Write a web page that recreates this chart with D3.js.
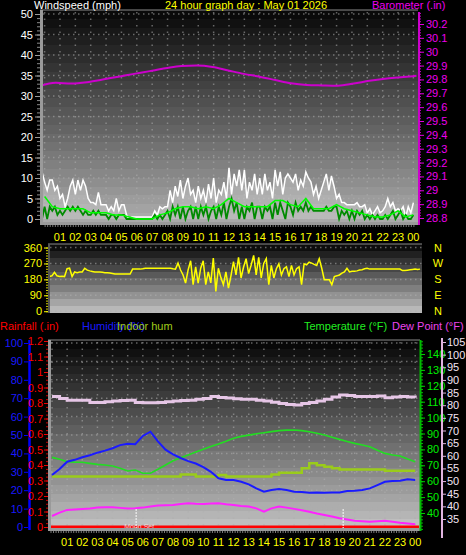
<!DOCTYPE html>
<html><head><meta charset="utf-8">
<script src="https://cdn.jsdelivr.net/npm/d3@7"></script>
<style>
html,body{margin:0;padding:0;background:#000;overflow:hidden}
svg{display:block}
text{font-family:"Liberation Sans",Arial,sans-serif;font-size:11px}
</style>
</head><body>
<svg id="c" width="466" height="555"></svg>
<script>
// ---------------- DATA ----------------
const chartTitle = "24 hour graph day : May 01 2026";
const hourTicks = [1,2,3,4,5,6,7,8,9,10,11,12,13,14,15,16,17,18,19,20,21,22,23,24];
const hourLabels = ["01","02","03","04","05","06","07","08","09","10","11","12","13","14","15","16","17","18","19","20","21","22","23","00"];
const windTicks = [0,5,10,15,20,25,30,35,40,45,50];
const baroTicks = [28.8,28.9,29,29.1,29.2,29.3,29.4,29.5,29.6,29.7,29.8,29.9,30,30.1,30.2];
const dirTicks = [0,90,180,270,360];
const dirLabels = ["N","E","S","W","N"];
const humTicks = [0,10,20,30,40,50,60,70,80,90,100];
const rainTicks = [0,0.1,0.2,0.3,0.4,0.5,0.6,0.7,0.8,0.9,1,1.1,1.2];
const tempTicks = [40,50,60,70,80,90,100,110,120,130,140];
const dewTicks = [35,40,45,50,55,60,65,70,75,80,85,90,95,100,105];

// 10-minute samples, first at -1/6 h
const windGust = [11.5,
 9,7,9.5,9.5,7,8,
 5,6,3,5,8,9.5,
 6,9.5,7,9.5,8,5,
 4,4,3.5,6.5,3.5,3.5,
 3.5,2,3,2,5,2,
 3.5,3.5,1,0,0.5,0.5,
 0.5,0.5,0.5,0.5,0.5,0.5,
 0.5,2,1,3,2.5,3,
 3,7,4,8,5.5,9.5,
 5,8,10,6,7,4,
 8,5,7,4,8.5,5,
 10,4,7,6,9,5,
 12.5,6,11,8,12,7,
 12,5,9,7,11,6,
 10,6,11,7,9,5,
 12,8,11.5,6,10,11,
 10,9,11,7,9.5,8,
 11.5,10,9,6,8,5,
 7,9,11,7,10.5,8,
 5,6,4,4,3.5,3.5,
 3.5,3.5,4,3,3,3.5,
 1.5,2.5,1,2,3,1.5,
 2,3,5,3,4,2,
 2.5,2,3,0.5,3,1.5,
 4];
const windSpeed = [0,
 3,0,3,2,3,1,
 2,1,2,3,2,3,
 2,3,2,1,2,1,
 1,2,1,2,1,1,
 1,0,1,1,0,1,
 1,1,0,0,0,0,
 0,0,0,0,0,0,
 0,1,0,1,0,1,
 2,0,3,1,3,0,
 3,0,2,3,0,3,
 0,3,1,3,0,2,
 3,0,3,1,4,0,
 3,5,2,4,0,3,
 0,3,2,4,0,3,
 3,0,3,2,3,0,
 4,1,4,2,0,4,
 3,1,4,2,3,2,
 4,2,3,2,2,2,
 2,2,3,2,2,3,
 3,0,2,1,2,0,
 2,0,2,1,2,0,
 1,0,1,0,1,0,
 0,1,0,1,2,0,
 1,2,0,1,0,0,
 1];
// half-hourly from 0 h
const windAvg = [5.5,3,2.5,2.5,2.5,2.5,1.5,1.5,1.5,1,1,0.5,0,0,0,1,1.5,2.5,3,3,2.5,3,2.5,3.5,5,4,3,3,3,3,4.5,4.5,3.5,3,5,2.5,2.5,2.5,3.5,2.5,2,1.5,1,0.5,0.5,1,2,0.5,1];
// hourly-ish, from -0.3 h to 24.2 h
const barometer = [29.752,29.776,29.77,29.78,29.80,29.82,29.84,29.86,29.88,29.897,29.90,29.89,29.865,29.84,29.82,29.796,29.772,29.76,29.757,29.755,29.77,29.79,29.805,29.815,29.826];
// 10-minute samples, first at -1/6 h
const windDir = [196,
 200,220,200,196,198,196,
 240,243,196,222,218,222,
 222,243,232,228,225,222,
 222,222,220,218,218,216,
 213,210,210,210,210,210,
 210,210,238,238,238,238,
 240,243,243,243,243,243,
 243,243,243,243,243,243,
 240,238,272,233,205,159,
 233,285,150,251,159,243,
 285,150,222,160,300,112,
 243,190,150,222,131,200,
 280,205,304,188,250,297,
 213,260,316,205,304,188,
 270,297,150,259,188,240,
 268,205,240,251,196,259,
 205,240,251,150,268,262,
 277,272,265,259,297,243,
 178,178,178,150,196,200,
 205,215,222,243,222,226,
 226,228,233,235,240,243,
 238,238,238,238,238,238,
 238,238,238,238,238,238,
 238,230,230,232,234,236,
 238,236,238];
// half-hourly from 0 h
const humidity = [28.3,31.5,35.5,36.5,37.9,39,40.4,41.5,42.8,44.5,45.3,45,49.5,51.8,46.5,42,39.5,37.5,35.8,34.5,32.5,30,26.5,25.5,25.5,24.6,23.2,21,19.2,20.1,20.6,20.1,19.2,19,18.6,18.8,18.6,18.8,18.8,19.6,19.7,20.1,21,22.8,24.6,25,25.2,25.9,25.5];
const indoorHum = [27.4,27.4,27.4,27.4,27.4,27.4,27.4,27.4,27.4,27.4,27.4,27.4,27.4,27.4,27.4,27.4,27.4,28.6,28.6,27.4,27.4,27.4,28.2,27.4,27.4,27.4,27.4,27.4,27.4,28.6,29.5,29.5,29.5,31.9,34.6,33.5,32.8,31.9,31.3,31.3,31.3,31.3,31.3,31.3,30.6,30.6,30.6,30.6,30.6];
const temperature = [75,73.8,72.3,72,71.9,71.2,70.6,70.2,69.6,68.2,66.4,67,65,65,67.5,70.2,72.9,74.7,76.5,78.3,80.1,81.8,83.4,85.2,87,88.2,89,89.8,90.5,91.2,91.8,92.1,92.2,91.8,91.1,90.1,89,87.7,86.3,85,83.8,82.8,81.7,79.5,77.5,76.5,75.8,74,72.2];
const dewPoint = [36.2,37.5,38.6,38.8,39,39.2,39.5,39.6,39.6,39.4,39.2,39.3,39.5,39.9,40.3,40.4,40.5,40.9,41.2,41,40.9,41.1,41.2,40.8,40.5,40.1,39.9,39.2,37.9,39.2,39.9,39.5,39,38.5,37.9,37.2,36.6,36,35.3,34.8,34.3,34.1,33.9,34.1,34.3,33.9,33.5,33.2,32.9];
const indoorTemp = [83.4,82.7,82,82,82,81.1,81.1,81.4,81.7,81.9,82,81.1,81,81,81.1,81.4,81.7,81.9,82,82.4,82.7,83.4,83.1,82.9,82.6,82.4,82.4,82,81.7,81.2,80.7,80.3,80.1,80.7,81.1,81.7,82.4,83.2,84,83.8,83.4,83.4,83.4,83.6,83,83.2,83.4,83.2,83];
const rainfall = [0,0,0,0,0,0,0,0,0,0,0,0,0,0,0,0,0,0,0,0,0,0,0,0,0];
const moonEvents = [{t:5.56,label:"Moon Set"},{t:19.24,label:""}];

// ---------------- HELPERS ----------------
const svg = d3.select('#c');
const defs = svg.append('defs');
function series(vals, start, step){ return vals.map((v,i)=>({t:start+i*step, v:v})); }
function bandGrad(id, top, bot, n){
  const g = defs.append('linearGradient').attr('id',id).attr('x1',0).attr('y1',0).attr('x2',0).attr('y2',1);
  const ip = d3.interpolateRgb(top, bot);
  for(let k=0;k<n;k++){
    const c = ip(k/(n-1));
    g.append('stop').attr('offset',k/n).attr('stop-color',c);
    g.append('stop').attr('offset',(k+1)/n).attr('stop-color',c);
  }
}
function clip(id,P){ defs.append('clipPath').attr('id',id).append('rect').attr('x',P.l).attr('y',P.t).attr('width',P.r-P.l).attr('height',P.b-P.t); }
function dotted(g, x1,y1,x2,y2,dash){
  g.append('line').attr('x1',x1).attr('y1',y1).attr('x2',x2).attr('y2',y2)
   .attr('stroke','rgba(175,175,175,0.55)').attr('stroke-width',1.5).attr('stroke-dasharray',dash);
}
function styleAxis(g, color, textColor){
  g.select('.domain').remove();
  g.selectAll('line').attr('stroke',color);
  g.selectAll('text').attr('fill',textColor||color).style('font-size','11px').style('font-family','"Liberation Sans",Arial,sans-serif');
}
const hourFmt = h => hourLabels[hourTicks.indexOf(h)];

// ---------------- PANEL 1: WIND + BAROMETER ----------------
const P1 = {l:40, r:418, t:10, b:222};
const x1 = d3.scaleLinear().domain([-0.3,24.3]).range([P1.l,P1.r]);
const yWind = d3.scaleLinear().domain([0,50]).range([219,14]);
const yBaro = d3.scaleLinear().domain([28.8,30.2]).range([218,24]);
bandGrad('g1','#0a0a0a','#aaaaaa',24);
clip('c1',P1);
svg.append('rect').attr('x',P1.l).attr('y',P1.t).attr('width',P1.r-P1.l).attr('height',P1.b-P1.t).attr('fill','url(#g1)');
const grid1 = svg.append('g');
windTicks.forEach(v=>dotted(grid1,P1.l+3,yWind(v),P1.r,yWind(v),'1.5 3.5'));
d3.range(0,25).forEach(h=>dotted(grid1,x1(h),P1.t+2,x1(h),P1.b,'1.5 5'));
const p1 = svg.append('g').attr('clip-path','url(#c1)');
const gustS = series(windGust,-1/6,1/6);
p1.append('path').datum(gustS).attr('fill','rgba(215,215,215,0.35)')
  .attr('d',d3.area().x(d=>x1(d.t)).y0(yWind(0)).y1(d=>yWind(d.v)));
p1.append('path').datum(gustS).attr('fill','none').attr('stroke','#ffffff').attr('stroke-width',1.5)
  .attr('d',d3.line().x(d=>x1(d.t)).y(d=>yWind(d.v)));
p1.append('path').datum(series(windSpeed,-1/6,1/6)).attr('fill','none').attr('stroke','#008a00').attr('stroke-width',1.8)
  .attr('d',d3.line().x(d=>x1(d.t)).y(d=>yWind(d.v)));
p1.append('path').datum(series(windAvg,0,0.5)).attr('fill','none').attr('stroke','#00ff00').attr('stroke-width',1.5)
  .attr('d',d3.line().x(d=>x1(d.t)).y(d=>yWind(d.v)));
p1.append('path').datum(series(barometer,-0.3,(24.2+0.3)/24)).attr('fill','none').attr('stroke','#cc00cc').attr('stroke-width',2)
  .attr('d',d3.line().curve(d3.curveMonotoneX).x(d=>x1(d.t)).y(d=>yBaro(d.v)));
// frame
svg.append('line').attr('x1',P1.l).attr('x2',P1.r).attr('y1',P1.t).attr('y2',P1.t).attr('stroke','#8a8a8a');
svg.append('rect').attr('x',P1.l).attr('y',P1.t).attr('width',3).attr('height',P1.b-P1.t+3).attr('fill','#9a9a9a');
svg.append('rect').attr('x',P1.l).attr('y',P1.b).attr('width',P1.r-P1.l).attr('height',3).attr('fill','#9a9a9a');
// left wind axis
const aw = svg.append('g').attr('transform',`translate(${P1.l},0)`).call(d3.axisLeft(yWind).tickValues(d3.range(0,51,1)).tickSize(3).tickFormat(''));
styleAxis(aw,'#8a8a8a');
const aw2 = svg.append('g').attr('transform',`translate(${P1.l},0)`).call(d3.axisLeft(yWind).tickValues(windTicks).tickSize(5).tickPadding(2));
styleAxis(aw2,'#9a9a9a','#ffffff');
// right barometer axis
svg.append('line').attr('x1',P1.r+1).attr('x2',P1.r+1).attr('y1',P1.t+2).attr('y2',P1.b+3).attr('stroke','#cc00cc').attr('stroke-width',2);
const ab = svg.append('g').attr('transform',`translate(${P1.r+1},0)`).call(d3.axisRight(yBaro).tickValues(d3.range(28.8,30.3,0.02)).tickSize(2).tickFormat(''));
styleAxis(ab,'#cc00cc');
const ab2 = svg.append('g').attr('transform',`translate(${P1.r+1},0)`).call(d3.axisRight(yBaro).tickValues(baroTicks).tickSize(5).tickPadding(2).tickFormat(d=>d3.format('')(+d.toFixed(1))));
styleAxis(ab2,'#dd00dd','#ee00ee');
// bottom hour axis
const ah = svg.append('g').attr('transform',`translate(0,${P1.b+3})`).call(d3.axisBottom(x1).tickValues(d3.range(0,145).map(i=>i/6)).tickSize(2).tickFormat(''));
styleAxis(ah,'#7a7a7a');
svg.append('g').selectAll('text').data(hourTicks).join('text')
  .attr('x',d=>x1(d)).attr('y',241).attr('text-anchor','middle').attr('fill','#ffff00').text(hourFmt);
// titles
svg.append('text').attr('x',34).attr('y',9).attr('fill','#ffffff').text('Windspeed (mph)');
svg.append('text').attr('x',246).attr('y',9).attr('text-anchor','middle').attr('fill','#ffff00').text(chartTitle);
svg.append('text').attr('x',372).attr('y',9).attr('fill','#ee00ee').text('Barometer (.in)');

// ---------------- PANEL 2: WIND DIRECTION ----------------
const P2 = {l:48, r:422, t:244, b:313};
const x2 = d3.scaleLinear().domain([-0.26,24.46]).range([P2.l,P2.r]);
const yDir = d3.scaleLinear().domain([-10,380]).range([P2.b,P2.t]);
bandGrad('g2','#0e0e0e','#b8b8b8',10);
clip('c2',P2);
svg.append('rect').attr('x',P2.l).attr('y',P2.t).attr('width',P2.r-P2.l).attr('height',P2.b-P2.t).attr('fill','url(#g2)');
const grid2 = svg.append('g');
dirTicks.forEach(v=>dotted(grid2,P2.l+2,yDir(v),P2.r,yDir(v),'1.5 3.5'));
svg.append('g').attr('clip-path','url(#c2)').append('path').datum(series(windDir,-1/6,1/6))
  .attr('fill','none').attr('stroke','#ffff00').attr('stroke-width',1.5)
  .attr('d',d3.line().x(d=>x2(d.t)).y(d=>yDir(d.v)));
svg.append('line').attr('x1',P2.l).attr('x2',P2.r).attr('y1',P2.t).attr('y2',P2.t).attr('stroke','#8a8a8a');
svg.append('rect').attr('x',P2.l).attr('y',P2.t).attr('width',2).attr('height',P2.b-P2.t).attr('fill','#555');
const ad = svg.append('g').attr('transform',`translate(${P2.l},0)`).call(d3.axisLeft(yDir).tickValues(d3.range(0,361,15)).tickSize(2).tickFormat(''));
styleAxis(ad,'#cccc00');
const ad2 = svg.append('g').attr('transform',`translate(${P2.l},0)`).call(d3.axisLeft(yDir).tickValues(dirTicks).tickSize(4).tickPadding(2));
styleAxis(ad2,'#ffff00');
svg.append('g').selectAll('text').data(dirTicks).join('text')
  .attr('x',438).attr('y',d=>yDir(d)+4).attr('text-anchor','middle').attr('fill','#ffff00')
  .text((d,i)=>dirLabels[i]);

// ---------------- PANEL 3: TEMP / HUM / RAIN ----------------
const P3 = {l:48, r:420, t:340, b:528};
const x3 = d3.scaleLinear().domain([-0.2,24.25]).range([49,419]);
const yHum = d3.scaleLinear().domain([0,100]).range([527,343]);
const yRain = d3.scaleLinear().domain([0,1.2]).range([527,341]);
const yTemp = d3.scaleLinear().domain([40,140]).range([513,354]);
const yDew = d3.scaleLinear().domain([35,105]).range([519,342]);
bandGrad('g3','#080808','#bebebe',22);
clip('c3',P3);
svg.append('rect').attr('x',P3.l).attr('y',P3.t).attr('width',P3.r-P3.l).attr('height',P3.b-P3.t).attr('fill','url(#g3)');
const grid3 = svg.append('g');
humTicks.forEach(v=>dotted(grid3,P3.l+3,yHum(v),P3.r,yHum(v),'1.5 3.5'));
d3.range(0,25).forEach(h=>dotted(grid3,x3(h),P3.t+2,x3(h),P3.b,'1.5 5'));
const p3 = svg.append('g').attr('clip-path','url(#c3)');
const ln = (ys,curve) => d3.line().curve(curve||d3.curveLinear).x(d=>x3(d.t)).y(d=>ys(d.v));
p3.append('path').datum(series(indoorTemp,0,0.5)).attr('fill','none').attr('stroke','#e6c6e6').attr('stroke-width',3).attr('d',ln(yDew,d3.curveStepAfter));
p3.append('path').datum(series(temperature,0,0.5)).attr('fill','none').attr('stroke','#22dd22').attr('stroke-width',1.6).attr('d',ln(yTemp));
p3.append('path').datum(series(indoorHum,0,0.5)).attr('fill','none').attr('stroke','#9acc1a').attr('stroke-width',2.5).attr('d',ln(yHum,d3.curveStepAfter));
p3.append('path').datum(series(humidity,0,0.5)).attr('fill','none').attr('stroke','#1a1aff').attr('stroke-width',2).attr('d',ln(yHum));
p3.append('path').datum(series(dewPoint,0,0.5)).attr('fill','none').attr('stroke','#ff22ff').attr('stroke-width',2).attr('d',ln(yDew));
p3.append('path').datum(series(rainfall,-0.2,(24.25+0.2)/24)).attr('fill','none').attr('stroke','#ff0000').attr('stroke-width',3).attr('d',ln(yRain));
moonEvents.forEach(m=>{
  p3.append('line').attr('x1',x3(m.t)).attr('x2',x3(m.t)).attr('y1',509).attr('y2',P3.b)
    .attr('stroke','#f0f0f0').attr('stroke-width',1.2).attr('stroke-dasharray','2 1');
  if(m.label) p3.append('text').attr('x',x3(m.t)+3).attr('y',529).attr('text-anchor','middle')
    .attr('fill','#e8d8d8').style('font-size','7px').text(m.label);
});
svg.append('line').attr('x1',P3.l).attr('x2',P3.r).attr('y1',P3.t).attr('y2',P3.t).attr('stroke','#8a8a8a');
svg.append('rect').attr('x',P3.l).attr('y',P3.t).attr('width',3).attr('height',P3.b-P3.t+3).attr('fill','#9a9a9a');
svg.append('rect').attr('x',P3.l).attr('y',P3.b).attr('width',P3.r-P3.l).attr('height',3).attr('fill','#9a9a9a');
const ah3 = svg.append('g').attr('transform',`translate(0,${P3.b+3})`).call(d3.axisBottom(x3).tickValues(d3.range(0,146).map(i=>-0.1+i/6)).tickSize(2).tickFormat(''));
styleAxis(ah3,'#7a7a7a');
svg.append('g').selectAll('text').data(hourTicks).join('text')
  .attr('x',d=>x3(d)).attr('y',546).attr('text-anchor','middle').attr('fill','#ffff00').text(hourFmt);
// humidity axis (blue)
svg.append('line').attr('x1',29.5).attr('x2',29.5).attr('y1',P3.t).attr('y2',P3.b+2).attr('stroke','#0000ff').attr('stroke-width',2.5);
const aHum = svg.append('g').attr('transform','translate(28,0)').call(d3.axisLeft(yHum).tickValues(humTicks).tickSize(4).tickPadding(1));
styleAxis(aHum,'#0000ff','#1a1aff');
// rain axis (red)
const aR = svg.append('g').attr('transform',`translate(${P3.l},0)`).call(d3.axisLeft(yRain).tickValues(d3.range(0,1.2001,0.025)).tickSize(2).tickFormat(''));
styleAxis(aR,'#cc0000');
const aR2 = svg.append('g').attr('transform',`translate(${P3.l},0)`).call(d3.axisLeft(yRain).tickValues(rainTicks).tickSize(4).tickPadding(1).tickFormat(d=>d3.format('')(+d.toFixed(1))));
styleAxis(aR2,'#ee0000','#ff0000');
// temperature axis (green)
svg.append('line').attr('x1',P3.r+0.5).attr('x2',P3.r+0.5).attr('y1',P3.t).attr('y2',P3.b+3).attr('stroke','#00bb00').attr('stroke-width',2);
const aT = svg.append('g').attr('transform',`translate(${P3.r+1},0)`).call(d3.axisRight(yTemp).tickValues(d3.range(30,150,2)).tickSize(2).tickFormat(''));
styleAxis(aT,'#00bb00');
const aT2 = svg.append('g').attr('transform',`translate(${P3.r+1},0)`).call(d3.axisRight(yTemp).tickValues(tempTicks).tickSize(4).tickPadding(2));
styleAxis(aT2,'#00cc00','#00ee00');
// dew axis (pink)
svg.append('line').attr('x1',442).attr('x2',442).attr('y1',P3.t-2).attr('y2',P3.b+10).attr('stroke','#e0b4e0').attr('stroke-width',2);
const aD = svg.append('g').attr('transform','translate(443,0)').call(d3.axisRight(yDew).tickValues(dewTicks).tickSize(3).tickPadding(1));
styleAxis(aD,'#e0b4e0','#f4e4f4');
// titles
svg.append('text').attr('x',0).attr('y',330).attr('fill','#ff0000').text('Rainfall (.in)');
svg.append('text').attr('x',82).attr('y',330).attr('fill','#1a1aff').text('Humidity (%)');
svg.append('text').attr('x',117).attr('y',330).attr('fill','#a0cc1a').text('Indoor hum');
svg.append('text').attr('x',304).attr('y',330).attr('fill','#22ee22').text('Temperature (°F)');
svg.append('text').attr('x',392).attr('y',330).attr('fill','#ee44ee').text('Dew Point (°F)');
</script>
</body></html>
